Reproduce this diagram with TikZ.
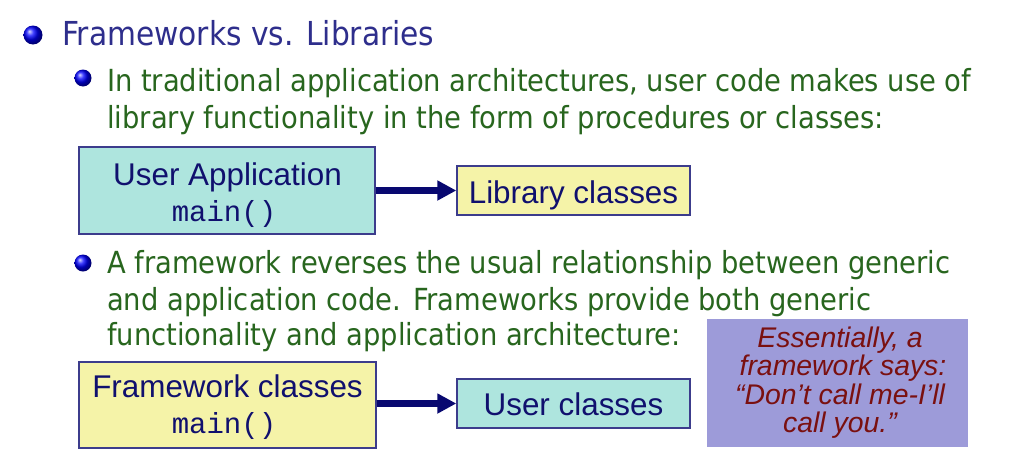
\documentclass[tikz,border=0pt]{standalone}
\usepackage{fontspec}
\usetikzlibrary{arrows.meta}

\newfontfamily\slidefont{DejaVu Sans Condensed}
\newfontfamily\boxfont{Liberation Sans}
\newfontfamily\codefont{Liberation Mono}

\definecolor{titleblue}{RGB}{46,46,140}
\definecolor{bodygreen}{RGB}{40,102,30}
\definecolor{boxtext}{RGB}{16,16,110}
\definecolor{boxborder}{RGB}{60,60,140}
\definecolor{cyanfill}{RGB}{174,229,222}
\definecolor{yellowfill}{RGB}{245,243,168}
\definecolor{purplefill}{RGB}{157,155,217}
\definecolor{quotered}{RGB}{122,16,16}
\definecolor{arrowblue}{RGB}{8,8,112}

\begin{document}
\begin{tikzpicture}[x=1pt, y=-1pt,
  bulletball/.style={circle, ball color=blue, inner sep=0pt, minimum size=#1},
  bulletball/.default=17pt,
  titletext/.style={anchor=base west, inner sep=0pt, text=titleblue,
    font=\slidefont\fontsize{33}{33}\selectfont},
  bodytext/.style={anchor=base west, inner sep=0pt, text=bodygreen,
    font=\slidefont\fontsize{30.4}{30.4}\selectfont},
  classbox/.style={draw=boxborder, line width=1.4pt, inner sep=0pt},
  boxlabel/.style={anchor=base, inner sep=0pt, text=boxtext,
    font=\boxfont\fontsize{31.4}{31.4}\selectfont},
  codelabel/.style={anchor=base, inner sep=0pt, text=boxtext,
    font=\codefont\fontsize{29}{29}\selectfont},
  quotetext/.style={anchor=base, inner sep=0pt, text=quotered,
    font=\boxfont\itshape\fontsize{28.4}{28.4}\selectfont},
  callarrow/.style={draw=arrowblue, line width=6.5pt,
    -{Triangle[length=19pt, width=19pt]}}
]
\useasboundingbox (0,0) rectangle (1032,458);
\fill[white] (0,0) rectangle (1032,458);

% heading
\node[bulletball=19pt] (ball0) at (33,35) {};
\node[titletext] (title) at (62,45) {Frameworks vs. Libraries};

% first point
\node[bulletball] (ball1) at (83,78) {};
\node[bodytext] (p1a) at (107,91) {In traditional application architectures, user code makes use of};
\node[bodytext] (p1b) at (107,128) {library functionality in the form of procedures or classes:};

% library usage
\node[classbox, fill=cyanfill, minimum width=296pt, minimum height=87pt] (ua) at (227,190.5) {};
\node[boxlabel] (uaname) at (227.5,185) {User Application};
\node[codelabel] (uacode) at (224,221) {main()};
\node[classbox, fill=yellowfill, minimum width=233pt, minimum height=49pt] (lib) at (573.5,190.5) {};
\node[boxlabel] (libname) at (573.5,203) {Library classes};
\draw[callarrow] (ua.east) -- (lib.west);

% second point
\node[bulletball] (ball2) at (83,263) {};
\node[bodytext] (p2a) at (107,273) {A framework reverses the usual relationship between generic};
\node[bodytext] (p2b) at (107,310) {and application code. Frameworks provide both generic};
\node[bodytext] (p2c) at (107,345) {functionality and application architecture:};

% framework usage
\node[classbox, fill=yellowfill, minimum width=297pt, minimum height=86pt] (fw) at (227.5,405) {};
\node[boxlabel] (fwname) at (227.5,397) {Framework classes};
\node[codelabel] (fwcode) at (224,433) {main()};
\node[classbox, fill=cyanfill, minimum width=233pt, minimum height=49pt] (uc) at (573.5,403.5) {};
\node[boxlabel] (ucname) at (573.5,415) {User classes};
\draw[callarrow] (fw.east |- uc.west) -- (uc.west);

% quotation
\node[fill=purplefill, minimum width=261pt, minimum height=128pt, inner sep=0pt] (quote) at (837.5,383) {};
\node[quotetext] (q1) at (840,347) {Essentially, a};
\node[quotetext] (q2) at (843,375.5) {framework says:};
\node[quotetext] (q3) at (840,404) {“Don’t call me-I’ll};
\node[quotetext] (q4) at (840,432) {call you.”};
\end{tikzpicture}
\end{document}
